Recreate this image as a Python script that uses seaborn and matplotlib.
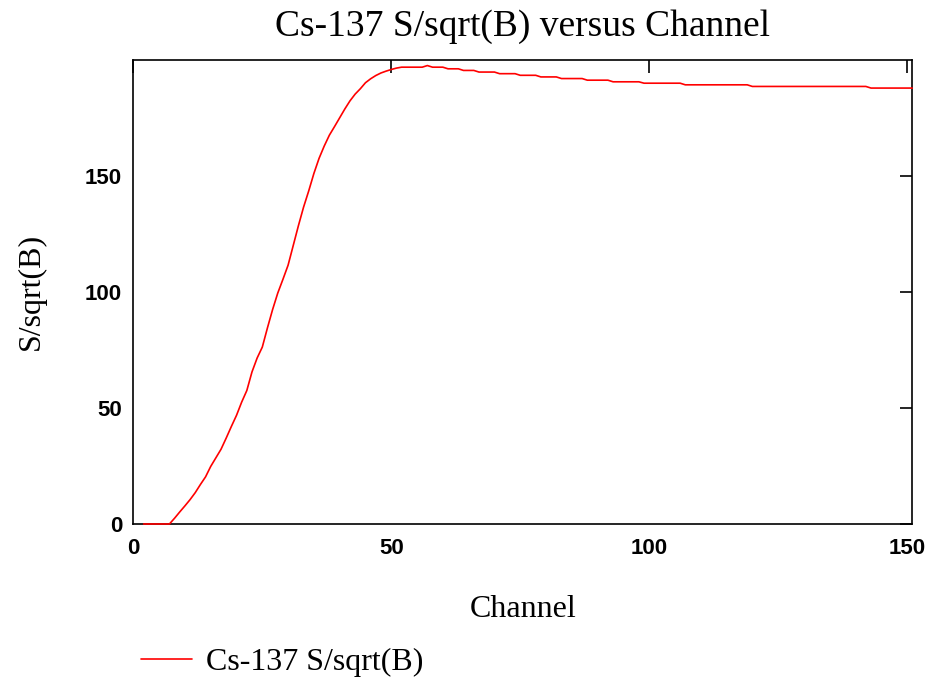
import matplotlib
matplotlib.use("Agg")
import matplotlib.pyplot as plt
import seaborn as sns
import pandas as pd

# Figure-of-merit S/sqrt(B) for the Cs-137 peak, one value per channel
channel = list(range(2, 152))
snr = [
    0.0, 0.0, 0.0, 0.0, 0.0, 0.0,                          # 2-7
    2.5, 5.2, 7.8, 10.5, 13.5, 17.0, 20.3, 24.8, 28.5, 32.2,  # 8-17
    37.0, 42.0, 46.8, 52.5, 57.5, 65.5, 71.5, 76.2, 84.5, 92.4,  # 18-27
    99.5, 105.4, 111.5, 120.0, 128.5, 136.5, 143.5, 151.0, 157.5, 162.8,  # 28-37
    167.5, 171.2, 175.0, 178.8, 182.3, 185.2, 187.5, 190.1, 191.8, 193.2,  # 38-47
    194.3, 195.1, 195.8, 196.4, 196.8, 196.8, 196.8, 196.8, 196.8, 197.5,  # 48-57
    196.8, 196.8, 196.8, 196.1, 196.1, 196.1, 195.4, 195.4, 195.4, 194.7,  # 58-67
    194.7, 194.7, 194.7, 194.0, 194.0, 194.0, 194.0, 193.3, 193.3, 193.3,  # 68-77
    193.3, 192.6, 192.6, 192.6, 192.6, 191.9, 191.9, 191.9, 191.9, 191.9,  # 78-87
    191.2, 191.2, 191.2, 191.2, 191.2, 190.5, 190.5, 190.5, 190.5, 190.5,  # 88-97
    190.5, 189.9, 189.9, 189.9, 189.9, 189.9, 189.9, 189.9, 189.9, 189.2,  # 98-107
    189.2, 189.2, 189.2, 189.2, 189.2, 189.2, 189.2, 189.2, 189.2, 189.2,  # 108-117
    189.2, 189.2, 188.5, 188.5, 188.5, 188.5, 188.5, 188.5, 188.5, 188.5,  # 118-127
    188.5, 188.5, 188.5, 188.5, 188.5, 188.5, 188.5, 188.5, 188.5, 188.5,  # 128-137
    188.5, 188.5, 188.5, 188.5, 188.5, 187.8, 187.8, 187.8, 187.8, 187.8,  # 138-147
    187.8, 187.8, 187.8, 187.8,                              # 148-151
]
x_ticks = [0, 50, 100, 150]
y_ticks = [0, 50, 100, 150]
series_name = "Cs-137 S/sqrt(B)"

df = pd.DataFrame({"Channel": channel, "S/sqrt(B)": snr})

sns.set_theme(style="white")
plt.rcParams.update({
    "text.color": "black",
    "axes.labelcolor": "black",
    "xtick.color": "black",
    "ytick.color": "black",
})
serif = ["Liberation Serif", "DejaVu Serif"]
sans = ["Liberation Sans", "DejaVu Sans"]

fig = plt.figure(figsize=(9.35, 6.79), dpi=100)
ax = fig.add_axes([0.1426, 0.2283, 0.9757 - 0.1426, 0.912 - 0.2283])

sns.lineplot(data=df, x="Channel", y="S/sqrt(B)", color="#ff0000",
             linewidth=1.2, ax=ax, label=series_name)
# keep the zero-level part of the curve visible over the bottom spine
for ln in ax.lines:
    ln.set_zorder(3)
    ln.set_clip_on(False)

ax.set_xlim(0, 151)
ax.set_ylim(0, 200)
ax.set_xticks(x_ticks)
ax.set_yticks(y_ticks)
ax.tick_params(direction="in", length=9, width=1.2, colors="black",
               top=True, right=True, labelsize=16, pad=10)
ax.tick_params(axis="y", pad=8)
for lab in ax.get_xticklabels() + ax.get_yticklabels():
    lab.set_fontfamily(sans)
    lab.set_fontweight("bold")
    lab.set_color("black")

for sp in ax.spines.values():
    sp.set_color("black")
    sp.set_linewidth(1.2)
    sp.set_zorder(2.5)

ax.set_title(series_name + " versus Channel", family=serif, fontsize=27,
             pad=17, color="black")
ax.set_xlabel("Channel", family=serif, fontsize=23, labelpad=26, color="black")
ax.set_ylabel("S/sqrt(B)", family=serif, fontsize=23, labelpad=28, color="black")

handles, labels = ax.get_legend_handles_labels()
ax.get_legend().remove()
leg = fig.legend(handles, labels, loc="center left",
                 bbox_to_anchor=(141 / 935, 1 - 662 / 679), frameon=False,
                 prop={"family": serif, "size": 23}, handlelength=1.6,
                 handletextpad=0.45, borderaxespad=0, borderpad=0)
for t in leg.get_texts():
    t.set_color("black")

fig.savefig("out.png", dpi=100)
